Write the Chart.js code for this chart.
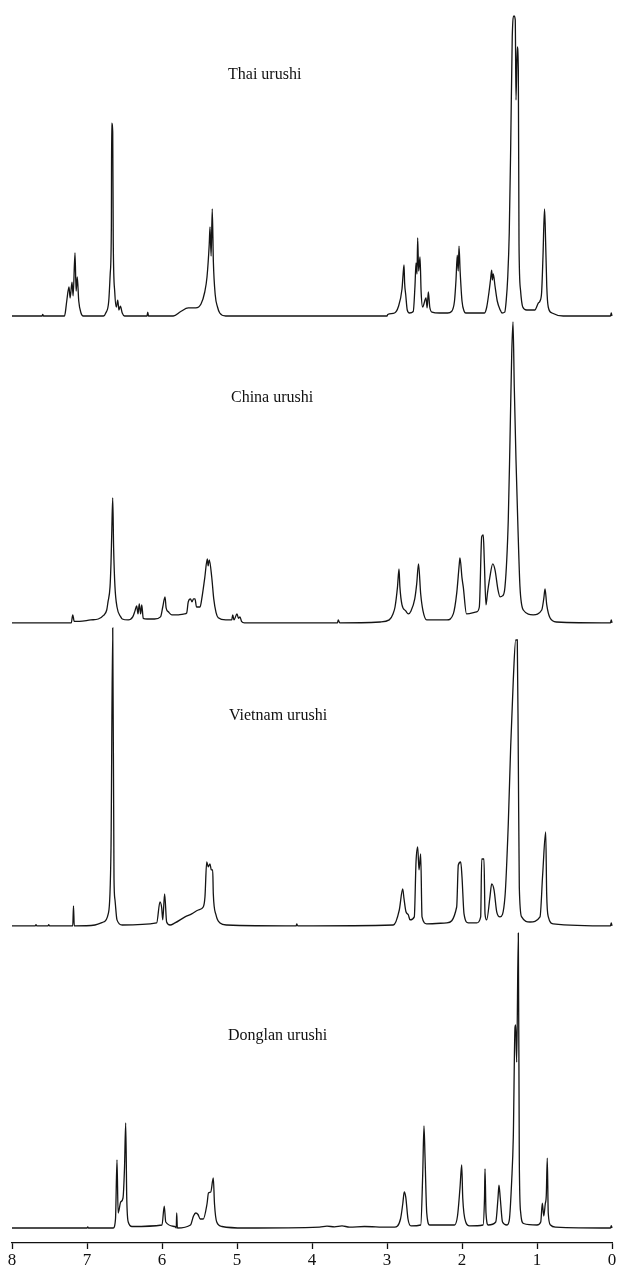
<!DOCTYPE html>
<html>
<head>
<meta charset="utf-8">
<script src="https://cdn.jsdelivr.net/npm/chart.js@4.4.1/dist/chart.umd.min.js"></script>
<style>
  html, body { margin: 0; padding: 0; background: #fff; }
  #grafico { display: block; }
</style>
</head>
<body>
<canvas id="grafico" width="618" height="1268"></canvas>
<script>
// [chemical shift (ppm), relative intensity]
const thaiUrushi = [
  [8.00,0],[7.60,0],[7.59,0.5],[7.58,0],[7.30,0],[7.29,1],[7.27,5],[7.24,9.7],[7.225,6],[7.20,11.3],
  [7.185,6.7],[7.16,21],[7.145,8.3],[7.13,13],[7.11,5],[7.08,1],[7.05,0],[6.78,0],[6.75,1],[6.71,5],
  [6.69,14.3],[6.675,30],[6.671,64.3],[6.657,61.3],[6.65,25],[6.63,8],[6.61,3],[6.59,5.3],[6.575,2],
  [6.555,3.3],[6.53,1],[6.50,0],[6.20,0],[6.19,1.3],[6.18,0],[5.85,0],[5.75,1.5],[5.65,2.7],[5.55,2.7],
  [5.48,4],[5.43,8],[5.40,13],[5.37,24],[5.36,29.7],[5.345,20],[5.33,35.7],[5.315,18],[5.29,7],[5.26,3],
  [5.23,1],[5.15,0],[3.00,0],[2.99,0.5],[2.90,1],[2.85,3],[2.80,9],[2.785,14],[2.773,17],[2.765,11],
  [2.75,7],[2.73,2],[2.70,1],[2.65,1.5],[2.627,10],[2.613,17.7],[2.60,14],[2.591,26],[2.578,15],[2.56,19.7],
  [2.545,8],[2.525,3],[2.48,6],[2.465,2.7],[2.449,8],[2.43,3],[2.40,1.3],[2.30,1],[2.19,1],[2.14,1.5],
  [2.10,5],[2.08,12],[2.063,20.3],[2.05,15],[2.04,23.3],[2.025,15],[2.00,5],[1.97,1.5],[1.95,1],[1.70,1],
  [1.67,3],[1.64,8],[1.62,12],[1.604,15.3],[1.595,12],[1.583,14],[1.56,10],[1.53,5],[1.49,2],[1.467,1],
  [1.43,1.3],[1.41,5.3],[1.39,13],[1.37,27.7],[1.35,57.7],[1.33,93],[1.307,100],[1.29,98.7],[1.28,72],
  [1.263,89.7],[1.249,82],[1.24,24.3],[1.22,8.7],[1.19,3],[1.137,2],[1.03,2],[0.983,4.3],[0.96,5],
  [0.938,8],[0.92,20],[0.90,35.7],[0.89,29.7],[0.87,10],[0.85,3],[0.80,1],[0.65,0],[0.02,0],[0.01,1],[0.00,0]
];

const chinaUrushi = [
  [8.00,0],[7.21,0],[7.19,2.7],[7.17,0.5],[7.10,0.5],[6.95,1],[6.85,1.3],[6.78,2.5],[6.737,4.3],[6.72,7],
  [6.693,12],[6.68,20],[6.67,30],[6.657,41.7],[6.645,25],[6.627,12],[6.60,5.3],[6.55,2],[6.53,1.3],[6.45,1],
  [6.39,2],[6.36,4],[6.337,5.7],[6.32,3],[6.303,6.3],[6.285,3],[6.27,6],[6.25,1.5],[6.20,1.3],[6.10,1.3],
  [6.02,2],[5.99,5.3],[5.96,8.7],[5.945,5],[5.915,3.7],[5.87,2.7],[5.78,2.7],[5.70,3],[5.671,3.3],[5.65,7],
  [5.62,8],[5.60,7],[5.58,8],[5.56,8],[5.54,5.3],[5.493,5.3],[5.47,8],[5.43,15],[5.396,21.3],[5.385,19],
  [5.37,21],[5.337,15.3],[5.31,8],[5.28,3.5],[5.25,1.7],[5.15,1],[5.07,1],[5.057,2.7],[5.04,1],[5.00,3],
  [4.98,1.5],[4.96,2],[4.94,0.5],[4.90,0],[3.66,0],[3.65,1],[3.63,0],[3.09,0.3],[2.97,1],[2.92,3],
  [2.893,5.3],[2.86,12],[2.84,18],[2.828,12],[2.80,6],[2.75,4],[2.716,3],[2.68,4],[2.63,8],[2.604,13],
  [2.58,19.7],[2.551,9.7],[2.52,4],[2.471,1],[2.30,1],[2.20,1],[2.116,3],[2.07,10],[2.036,19.7],[2.027,21.7],
  [2.00,15],[1.983,12],[1.94,3],[1.804,3.7],[1.769,5.3],[1.737,28.7],[1.716,29.3],[1.703,21],[1.68,6],
  [1.66,10],[1.63,15],[1.59,19.7],[1.56,17.7],[1.52,11],[1.493,8.7],[1.46,9],[1.427,12],[1.383,34.3],
  [1.36,61],[1.337,89.7],[1.32,100.3],[1.303,78.7],[1.28,54.3],[1.257,34.3],[1.227,12],[1.183,4.3],
  [1.05,2.7],[0.937,4.3],[0.91,8],[0.893,11.3],[0.87,6],[0.827,1.7],[0.74,0.3],[0.02,0],[0.01,1],[0.00,0]
];

const vietnamUrushi = [
  [8.00,0],[7.69,0],[7.68,0.4],[7.67,0],[7.52,0],[7.51,0.4],[7.50,0],[7.19,0],[7.18,6.7],[7.17,0],
  [6.893,0.3],[6.78,1.3],[6.717,4],[6.68,25.7],[6.657,99.3],[6.64,15.7],[6.627,8.7],[6.60,2],[6.53,0.3],
  [6.071,1],[6.027,8],[6.004,6],[5.99,2],[5.965,10.7],[5.938,1.3],[5.893,0.3],[5.827,1],[5.693,3],[5.604,4],
  [5.516,5.3],[5.45,6.3],[5.427,9.7],[5.404,21.3],[5.383,19.7],[5.36,20.7],[5.343,18.7],[5.324,18.7],
  [5.316,10.7],[5.28,3.7],[5.227,1],[5.137,0.3],[4.21,0],[4.204,0.7],[4.19,0],[2.916,0.3],[2.836,5.3],
  [2.791,12.3],[2.773,9],[2.747,4.7],[2.716,3.7],[2.693,2],[2.636,3],[2.613,21.3],[2.591,26.3],[2.573,18.7],
  [2.551,24],[2.533,3],[2.471,0.7],[2.204,1],[2.071,6.3],[2.049,20.3],[2.017,21.3],[2.00,16.3],[1.973,4],
  [1.916,1],[1.804,1],[1.751,3],[1.737,22.3],[1.707,22.3],[1.693,4],[1.671,2],[1.627,9.7],[1.604,14],
  [1.573,12],[1.537,4.7],[1.493,3],[1.427,9.7],[1.383,34],[1.351,59.7],[1.316,82],[1.284,95.3],[1.263,95.3],
  [1.249,55.3],[1.236,13],[1.204,3],[1.093,1.3],[0.96,3],[0.924,17.3],[0.884,31.3],[0.871,10.7],[0.849,3],
  [0.783,0.7],[0.02,0],[0.01,1],[0.00,0]
];

const donglanUrushi = [
  [8.00,0],[7.00,0],[6.99,0.4],[6.98,0],[6.65,0],[6.62,3],[6.60,22.7],[6.585,5],[6.55,8.7],[6.52,10],
  [6.50,20],[6.484,35],[6.47,10],[6.45,2],[6.40,0.5],[6.00,1],[5.97,7.3],[5.95,2],[5.83,0.5],[5.81,0],
  [5.804,5],[5.795,0],[5.62,1],[5.58,4],[5.55,5],[5.52,4.5],[5.49,3],[5.45,3],[5.40,8],[5.38,11.7],
  [5.35,12],[5.316,16.7],[5.30,8],[5.27,2],[5.20,0.5],[4.90,0],[3.90,0.3],[3.80,0.6],[3.70,0.4],[3.60,0.7],
  [3.50,0.3],[3.30,0.5],[3.00,0.3],[2.90,0.3],[2.82,3],[2.79,8],[2.77,12],[2.75,10.3],[2.72,3],[2.68,0.7],
  [2.55,1],[2.524,17.7],[2.507,34],[2.493,23.7],[2.47,5],[2.43,1],[2.10,1],[2.06,4],[2.027,13.3],[2.004,21],
  [1.99,10],[1.95,2],[1.90,0.7],[1.72,1],[1.70,10],[1.693,19.7],[1.68,5],[1.65,1],[1.55,2],[1.52,10],
  [1.507,14.3],[1.49,10],[1.46,2],[1.40,1],[1.369,2.7],[1.337,16],[1.316,30.3],[1.293,67],[1.284,67.7],
  [1.271,55.3],[1.249,98.3],[1.236,22.7],[1.217,5],[1.18,1.5],[1.00,1],[0.95,2],[0.929,8.3],[0.91,4],
  [0.89,8],[0.876,11],[0.863,23.3],[0.85,5],[0.82,1],[0.75,0.3],[0.02,0],[0.01,0.8],[0.00,0]
];

const nombresMuestras = ["Thai urushi", "China urushi", "Vietnam urushi", "Donglan urushi"];
const series = [thaiUrushi, chinaUrushi, vietnamUrushi, donglanUrushi];
const marcasEje = [8, 7, 6, 5, 4, 3, 2, 1, 0];

// layout: baseline of each trace (y units) and label anchor [ppm, height above baseline]
const desplazamientos = [309, 206.7, 105.7, 5];
const posEtiquetas = [[5.12, 80.3], [5.08, 75], [5.107, 70], [5.12, 64]];
const alturaEje = 25;

const etiquetasMuestras = {
  id: "etiquetasMuestras",
  afterDatasetsDraw(chart) {
    const { ctx, scales: { x, y } } = chart;
    ctx.save();
    ctx.font = '16px "Liberation Serif", "DejaVu Serif", serif';
    ctx.fillStyle = "#111";
    ctx.textBaseline = "middle";
    ctx.textAlign = "left";
    nombresMuestras.forEach((nombre, i) => {
      ctx.fillText(
        nombre,
        x.getPixelForValue(posEtiquetas[i][0]),
        y.getPixelForValue(desplazamientos[i] + posEtiquetas[i][1])
      );
    });
    ctx.restore();
  },
};

const datasets = series.map((serie, i) => ({
  label: nombresMuestras[i],
  data: serie.map(([ppm, v]) => ({ x: ppm, y: desplazamientos[i] + v })),
  borderColor: "#141414",
  borderWidth: 1.3,
  pointRadius: 0,
  cubicInterpolationMode: "monotone",
  fill: false,
  clip: false,
}));

new Chart(document.getElementById("grafico"), {
  type: "line",
  data: { datasets },
  options: {
    responsive: false,
    animation: false,
    layout: { padding: { left: 12, right: 6, top: 0, bottom: 0 } },
    plugins: { legend: { display: false }, tooltip: { enabled: false } },
    scales: {
      x: {
        type: "linear",
        reverse: true,
        min: 0,
        max: 8,
        afterBuildTicks: (scale) => {
          scale.ticks = marcasEje.map((v) => ({ value: v }));
        },
        afterFit: (scale) => {
          scale.height = alturaEje;
        },
        ticks: {
          color: "#111",
          padding: 1,
          maxRotation: 0,
          font: { family: '"Liberation Serif", "DejaVu Serif", serif', size: 17 },
        },
        grid: {
          drawOnChartArea: false,
          drawTicks: true,
          tickLength: 6,
          tickColor: "#111",
          tickWidth: 1.3,
        },
        border: { display: true, color: "#111", width: 1.3 },
      },
      y: {
        display: false,
        min: 0,
        max: 1243 / 3,
      },
    },
  },
  plugins: [etiquetasMuestras],
});
</script>
</body>
</html>
